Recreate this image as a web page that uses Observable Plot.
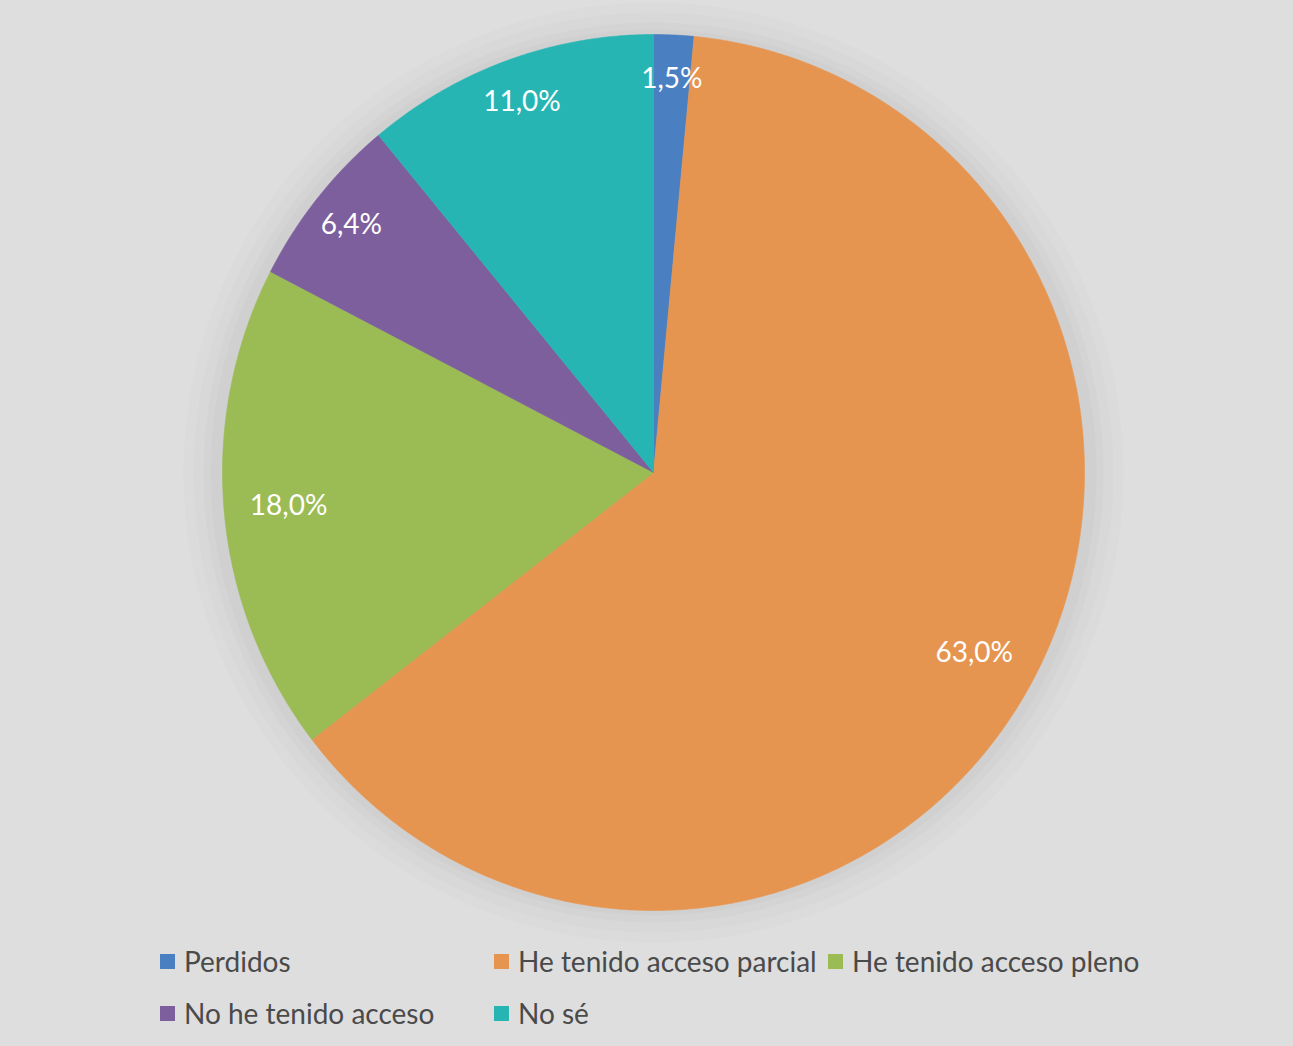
<!DOCTYPE html>
<html>
<head>
<meta charset="utf-8">
<script src="https://cdn.jsdelivr.net/npm/d3@7"></script>
<script src="https://cdn.jsdelivr.net/npm/@observablehq/plot@0.6"></script>
<style>
  html, body { margin: 0; padding: 0; background: #e0e0e0; }
  #wrap { width: 1293px; height: 1046px; background: #dedede; overflow: hidden; }
  .legend { font-family: Lato, "Open Sans", sans-serif; font-size: 28px; color: #4a4a4a; padding-left: 160px; }
  .row { display: flex; height: 52px; align-items: center; }
  .item { display: flex; align-items: center; width: 334px; white-space: nowrap; }
  .sw { width: 15px; height: 15px; margin-right: 9px; display: inline-block; }
</style>
</head>
<body>
<div id="wrap"></div>
<script>
const categories = ["Perdidos", "He tenido acceso parcial", "He tenido acceso pleno", "No he tenido acceso", "No sé"];
const values = [1.5, 63.0, 18.0, 6.4, 11.0];
const labels = ["1,5%", "63,0%", "18,0%", "6,4%", "11,0%"];
const colors = ["#4a7fc1", "#e69551", "#9bbb55", "#7d5f9e", "#26b5b3"];

const pie = d3.pie().sort(null).value(d => d)(values);

// slice outlines (center + arc samples), angle measured clockwise from 12 o'clock
const pts = [];
pie.forEach((p, i) => {
  const c = categories[i];
  pts.push({cat: c, x: 0, y: 0});
  const n = Math.max(2, Math.ceil((p.endAngle - p.startAngle) / (Math.PI / 360)));
  for (let k = 0; k <= n; k++) {
    const a = p.startAngle + (p.endAngle - p.startAngle) * k / n;
    pts.push({cat: c, x: Math.sin(a), y: Math.cos(a)});
  }
  pts.push({cat: c, x: 0, y: 0});
});

const lbl = pie.map((p, i) => {
  const a = (p.startAngle + p.endAngle) / 2;
  const r = values[i] < 15 ? 0.9 : 0.85;
  return {label: labels[i], x: r * Math.sin(a), y: r * Math.cos(a)};
});

const W = 1293, H = 935;
const chart = Plot.plot({
  width: W, height: H,
  marginLeft: 222, marginRight: W - 1084,
  marginTop: 34, marginBottom: H - 910,
  x: {domain: [-1, 1], axis: null},
  y: {domain: [-1, 1], axis: null},
  color: {domain: categories, range: colors},
  style: {background: "transparent", overflow: "visible"},
  marks: [
    Plot.dot([{x: 0, y: 0}], {x: "x", y: "y", r: 470, fill: "#dbdbdb", stroke: "none"}),
    Plot.dot([{x: 0, y: 0}], {x: "x", y: "y", r: 460, fill: "#d8d8d8", stroke: "none"}),
    Plot.dot([{x: 0, y: 0}], {x: "x", y: "y", r: 450, fill: "#d4d4d4", stroke: "none"}),
    Plot.dot([{x: 0, y: 0}], {x: "x", y: "y", r: 443, fill: "#d0d0d0", stroke: "none"}),
    Plot.line(pts, {x: "x", y: "y", z: "cat", fill: "cat", stroke: "cat", strokeWidth: 0.6, curve: "linear"}),
    Plot.text(lbl, {x: "x", y: "y", text: "label", fill: "white", fontSize: 28,
      fontFamily: "Lato, 'Open Sans', sans-serif", textAnchor: "middle"})
  ]
});

const wrap = document.getElementById("wrap");
wrap.appendChild(chart);

const legend = document.createElement("div");
legend.className = "legend";
const rows = [[0, 1, 2], [3, 4]];
rows.forEach(r => {
  const row = document.createElement("div");
  row.className = "row";
  r.forEach(i => {
    const it = document.createElement("div");
    it.className = "item";
    const sw = document.createElement("span");
    sw.className = "sw";
    sw.style.background = colors[i];
    it.appendChild(sw);
    it.appendChild(document.createTextNode(categories[i]));
    row.appendChild(it);
  });
  legend.appendChild(row);
});
wrap.appendChild(legend);
</script>
</body>
</html>
